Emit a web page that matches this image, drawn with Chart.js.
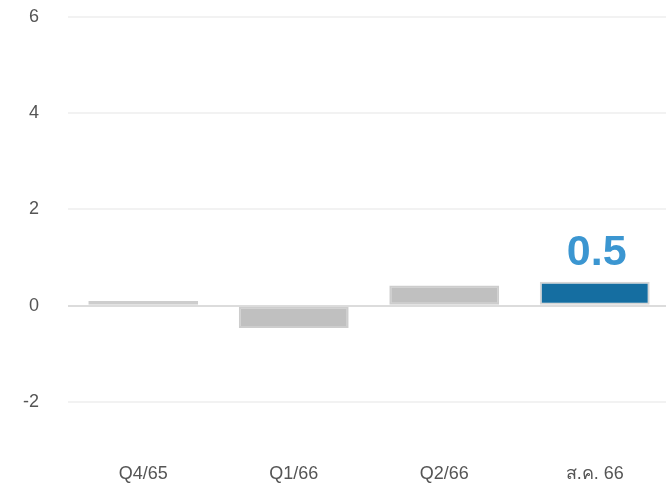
<!DOCTYPE html>
<html>
<head>
<meta charset="utf-8">
<script src="https://cdn.jsdelivr.net/npm/chart.js@4/dist/chart.umd.min.js"></script>
<style>
  html, body { margin: 0; padding: 0; background: #fff; overflow: hidden; }
  #wrap { position: relative; width: 670px; height: 513px; margin-top: -23px; }
</style>
</head>
<body>
<div id="wrap"><canvas id="grafica"></canvas></div>
<script>
const categorias = ['Q4/65', 'Q1/66', 'Q2/66', 'ส.ค. 66'];
const valores = [0.1, -0.46, 0.42, 0.5];
const colores = ['#c0c0c0', '#c0c0c0', '#c0c0c0', '#156ea1'];
const bordes = ['#cdcdcd', '#cdcdcd', '#cdcdcd', '#d6d6d6'];
const ticksY = [6, 4, 2, 0, -2];
const etiquetaUltima = '0.5';

const fuente = 'Helvetica, Arial, "Liberation Sans", sans-serif';

// valor grande encima de la ultima barra
const pluginEtiqueta = {
    id: 'etiquetaUltima',
    afterDatasetsDraw(chart) {
        const meta = chart.getDatasetMeta(0);
        const bar = meta.data[meta.data.length - 1];
        const ctx = chart.ctx;
        ctx.save();
        ctx.font = 'bold 43px ' + fuente;
        ctx.fillStyle = '#3b96d1';
        ctx.textAlign = 'center';
        ctx.textBaseline = 'alphabetic';
        ctx.fillText(etiquetaUltima, bar.x + 2, bar.y - 17);
        ctx.restore();
    }
};

new Chart(document.getElementById('grafica').getContext('2d'), {
    type: 'bar',
    data: {
        labels: categorias,
        datasets: [{
            data: valores,
            backgroundColor: colores,
            borderColor: bordes,
            borderWidth: 2,
            borderSkipped: false,
            categoryPercentage: 0.73,
            barPercentage: 1
        }]
    },
    options: {
        responsive: true,
        maintainAspectRatio: false,
        animation: false,
        layout: { autoPadding: false, padding: { top: 17, right: 0, bottom: 0, left: 0 } },
        plugins: {
            legend: { display: false },
            tooltip: { enabled: false }
        },
        scales: {
            x: {
                afterFit(axis) { axis.height = 34; },
                grid: { display: false, drawTicks: false },
                border: { display: false },
                ticks: { color: '#555', font: { size: 18, family: fuente }, padding: 13 }
            },
            y: {
                min: -3,
                max: 6,
                afterFit(axis) { axis.width = 68; },
                afterBuildTicks(axis) {
                    axis.ticks = ticksY.map(v => ({ value: v }));
                },
                grid: {
                    drawTicks: false,
                    lineWidth: 2,
                    color: ctx => ctx.tick && ctx.tick.value === 0 ? '#dcdcdc' : '#f2f2f2'
                },
                border: { display: false },
                ticks: { color: '#555', font: { size: 18, family: fuente }, padding: 29 }
            }
        }
    },
    plugins: [pluginEtiqueta]
});
</script>
</body>
</html>
